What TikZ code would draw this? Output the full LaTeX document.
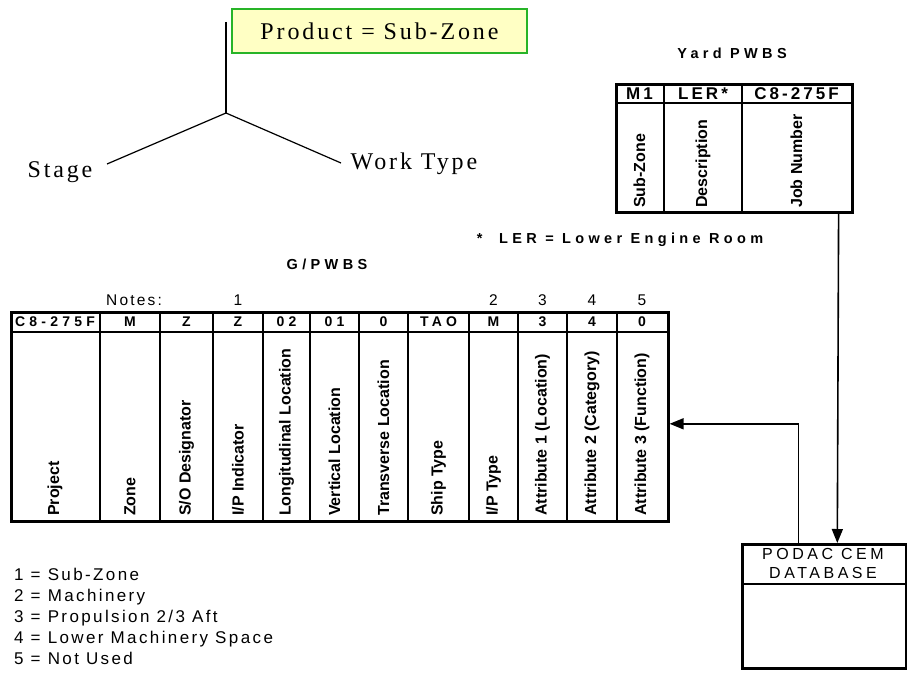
\documentclass[tikz,border=0pt]{standalone}
\usepackage{fontspec}
\setmainfont{Liberation Serif}
\setsansfont{Liberation Sans}
\newfontfamily\arialwide[LetterSpace=30]{Liberation Sans}
\newfontfamily\arialyard[LetterSpace=18]{Liberation Sans}
\newfontfamily\arialdb[LetterSpace=22]{Liberation Sans}
\newfontfamily\arialmid[LetterSpace=14]{Liberation Sans}
\newfontfamily\timeswide[LetterSpace=12]{Liberation Serif}
\newfontfamily\timesmid[LetterSpace=12]{Liberation Serif}
\usetikzlibrary{arrows.meta,positioning}
\definecolor{prodyellow}{RGB}{255,255,196}
\definecolor{prodgreen}{RGB}{40,180,40}

\begin{document}
\begin{tikzpicture}[x=1pt, y=-1pt,
    frame/.style={draw, line width=2.6pt, inner sep=0pt, anchor=north west},
    grid/.style={line width=2.6pt},
    head/.style={font=\fontsize{14}{16}\selectfont\bfseries\arialwide, inner sep=0pt},
    yhead/.style={font=\fontsize{17}{19}\selectfont\bfseries\arialyard, inner sep=0pt},
    vlab/.style={font=\fontsize{16}{18}\selectfont\bfseries\sffamily, rotate=90, anchor=west, inner sep=0pt},
    yvlab/.style={font=\fontsize{16}{18}\selectfont\bfseries\sffamily, rotate=90, anchor=west, inner sep=0pt},
    title/.style={font=\fontsize{14.5}{16}\selectfont\bfseries\arialwide, inner sep=0pt},
    note/.style={font=\fontsize{15.5}{17}\selectfont\arialmid, inner sep=0pt},
    lnote/.style={font=\fontsize{17}{19}\selectfont\arialmid, inner sep=0pt, anchor=base west},
    serif/.style={font=\fontsize{24}{26}\selectfont\timeswide, inner sep=0pt},
    arr/.style={-{Triangle[length=14pt, width=11pt]}, line width=1.6pt}
]
    \useasboundingbox (0,0) rectangle (907,677);

    % Product tree
    \node[draw=prodgreen, line width=1.2pt, fill=prodyellow, minimum width=295pt,
        minimum height=44pt, font=\fontsize{24}{26}\selectfont\timesmid] (prod) at (379.5,31) {Product = Sub-Zone};
    \coordinate (top) at (226,22);
    \coordinate (root) at (226,113);
    \coordinate (lend) at (107,164);
    \coordinate (rend) at (341,163);
    \node[serif] (stage) at (60,172) {Stage};
    \node[serif] (wtype) at (414,164) {Work Type};
    \draw[line width=1.2pt] (top) -- (root);
    \draw[line width=1.2pt] (root) -- (lend);
    \draw[line width=1.2pt] (root) -- (rend);

    % Yard PWBS
    \node[title] (ytitle) at (732,53) {Yard PWBS};
    \node[frame, minimum width=236pt, minimum height=128pt] (yard) at (615,83) {};
    \draw[grid] (615,103) -- (851,103);
    \draw[grid] (664,83) -- (664,211);
    \draw[grid] (742,83) -- (742,211);
    \node[yhead] (y1) at (639.5,93.5) {M1};
    \node[yhead] (y2) at (703,93.5) {LER*};
    \node[yhead] (y3) at (796.5,93.5) {C8-275F};
    \node[yvlab] at (639.5,208) {Sub-Zone};
    \node[yvlab] at (703,208) {Description};
    \node[yvlab] at (796.5,208) {Job Number};
    \node[title] (ler) at (620,240) {*\ \ LER = Lower Engine Room};

    % G/PWBS
    \node[title] (gtitle) at (327,264) {G/PWBS};
    \node[note] (notes) at (134,300) {Notes:};
    \node[note] at (238,300) {1};
    \node[note] at (493.5,300) {2};
    \node[note] at (542.5,300) {3};
    \node[note] at (592,300) {4};
    \node[note] at (642,300) {5};

    \node[frame, minimum width=657pt, minimum height=209pt] (gpwbs) at (10,311) {};
    \draw[grid] (10,332) -- (667,332);
    \draw[grid] (100,311) -- (100,520)  (160,311) -- (160,520)  (213,311) -- (213,520)
        (263,311) -- (263,520)  (310,311) -- (310,520)  (359,311) -- (359,520)
        (408,311) -- (408,520)  (469,311) -- (469,520)  (518,311) -- (518,520)
        (567,311) -- (567,520)  (617,311) -- (617,520);

    \node[head] at (55,322) {C8-275F};
    \node[head] at (130,322) {M};
    \node[head] at (186.5,322) {Z};
    \node[head] at (238,322) {Z};
    \node[head] at (286.5,322) {02};
    \node[head] at (334.5,322) {01};
    \node[head] at (383.5,322) {0};
    \node[head] at (438.5,322) {TAO};
    \node[head] at (493.5,322) {M};
    \node[head] at (542.5,322) {3};
    \node[head] at (592,322) {4};
    \node[head] at (642,322) {0};

    \node[vlab] at (55,516) {Project};
    \node[vlab] at (130,516) {Zone};
    \node[vlab] at (186.5,516) {S/O Designator};
    \node[vlab] at (238,516) {I/P Indicator};
    \node[vlab] at (286.5,516) {Longitudinal Location};
    \node[vlab] at (334.5,516) {Vertical Location};
    \node[vlab] at (383.5,516) {Transverse Location};
    \node[vlab] at (438.5,516) {Ship Type};
    \node[vlab] at (493.5,516) {I/P Type};
    \node[vlab] at (542.5,516) {Attribute 1 (Location)};
    \node[vlab] at (592,516) {Attribute 2 (Category)};
    \node[vlab] at (642,516) {Attribute 3 (Function)};

    % Note list
    \node[lnote] (n1) at (14,580) {1 = Sub-Zone};
    \node[lnote] (n2) at (14,601) {2 = Machinery};
    \node[lnote] (n3) at (14,622) {3 = Propulsion 2/3 Aft};
    \node[lnote] (n4) at (14,643) {4 = Lower Machinery Space};
    \node[lnote] (n5) at (14,664) {5 = Not Used};

    % PODAC CEM database
    \node[frame, minimum width=164pt, minimum height=124pt] (podac) at (741,543) {};
    \draw[grid] (741,584) -- (905,584);
    \node[font=\fontsize{16}{19}\selectfont\arialdb, align=center, inner sep=0pt]
        (dbname) at (823,563.5) {PODAC CEM\\DATABASE};

    % Arrows
    \draw[arr] ([xshift=-15pt]yard.south east) -- ([xshift=13pt]podac.north);
    \draw[arr] ([xshift=-26pt]podac.north) |- ([yshift=-7pt]gpwbs.east);
\end{tikzpicture}
\end{document}
